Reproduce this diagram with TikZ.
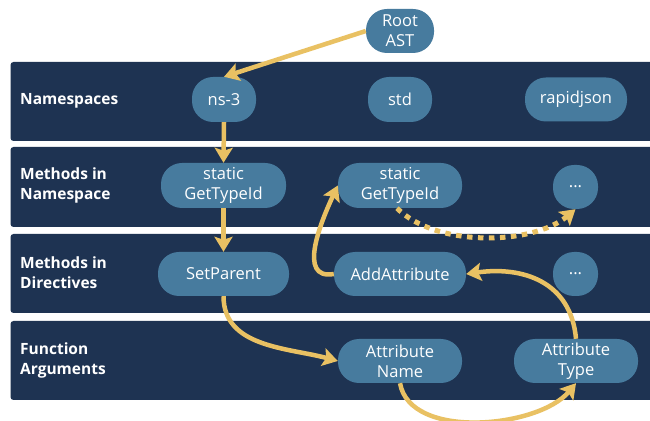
\documentclass[tikz,border=0pt]{standalone}
\usepackage{fontspec}
\setmainfont{Open Sans}
\usetikzlibrary{arrows.meta}
\definecolor{bandcol}{HTML}{1E3352}
\definecolor{nodecol}{HTML}{477B9E}
\definecolor{arrowcol}{HTML}{E9C163}
\begin{document}
\begin{tikzpicture}[x=1pt,y=1pt,
  band/.style={fill=bandcol, rounded corners=3pt},
  lane/.style={anchor=west, text=white, inner sep=0pt, align=left,
    font=\bfseries\fontsize{15.5}{20}\selectfont},
  item/.style={fill=nodecol, rounded corners=21pt, text=white, inner sep=0pt,
    align=center, minimum height=44pt, font=\fontsize{16.5}{20}\selectfont},
  link/.style={draw=arrowcol, line width=4.5pt,
    -{Stealth[length=15pt,width=18pt,inset=3pt]}},
  dotlink/.style={link, line width=5pt, line cap=butt, dash pattern=on 5.5pt off 5.5pt},
]
\clip (0,0) rectangle (650,420);
\fill[white] (0,0) rectangle (650,420);

% horizontal lanes
\fill[band] (10.5,358) rectangle (662,279);
\fill[band] (10.5,273) rectangle (662,193);
\fill[band] (10.5,186) rectangle (662,107);
\fill[band] (10.5,99)  rectangle (662,20);

\node[lane] (l1) at (20,319) {Namespaces};
\node[lane] (l2) at (20,235) {Methods in\\Namespace};
\node[lane] (l3) at (20,147) {Methods in\\Directives};
\node[lane] (l4) at (20,60)  {Function\\Arguments};

% AST nodes
\node[item, minimum width=68pt]  (root)      at (400,389)   {Root\\AST};
\node[item, minimum width=64pt, minimum height=45pt] (ns3) at (224,320.5) {ns-3};
\node[item, minimum width=64pt, minimum height=45pt] (std) at (400,320.5) {std};
\node[item, minimum width=102pt] (rapid)     at (576,320.5) {rapidjson};
\node[item, minimum width=125pt, minimum height=45pt] (st1) at (223.5,234.5) {static\\GetTypeId};
\node[item, minimum width=124pt, minimum height=45pt] (st2) at (400,234.5) {static\\GetTypeId};
\node[item, minimum width=45pt]  (dots1)     at (575.5,233) {...};
\node[item, minimum width=131pt] (setparent) at (223.5,146) {SetParent};
\node[item, minimum width=132pt] (addattr)   at (400,146)   {AddAttribute};
\node[item, minimum width=45pt]  (dots2)     at (575.5,146) {...};
\node[item, minimum width=124pt] (attrname)  at (400,59)    {Attribute\\Name};
\node[item, minimum width=124pt] (attrtype)  at (576,59)    {Attribute\\Type};

% traversal
\draw[link] (root.west) -- (ns3.north);
\draw[link] (ns3.south) -- (st1.north);
\draw[link] (st1.south) -- (setparent.north);
\draw[link] (setparent.south) to[out=-90, in=165] (attrname.west);
\draw[link] (addattr.west) to[out=190, in=245, looseness=1.1] (st2.west);
\draw[dotlink] ([xshift=-3pt]st2.south) to[out=-45, in=220, looseness=0.8] (dots1.south);
\draw[link] (attrname.south) to[out=-80, in=230, looseness=0.85] (attrtype.south);
\draw[link] (attrtype.north) to[out=95, in=8, looseness=1.15] (addattr.east);
\end{tikzpicture}
\end{document}
